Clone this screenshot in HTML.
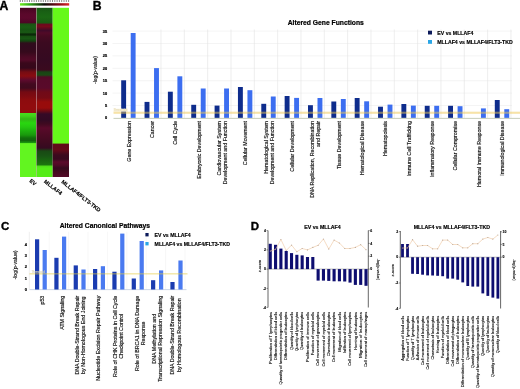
<!DOCTYPE html>
<html><head><meta charset="utf-8"><style>
html,body{margin:0;padding:0;background:#fff;width:520px;height:389px;overflow:hidden}
svg{display:block;filter:blur(0.3px)}
text{font-family:"Liberation Sans",sans-serif}
</style></head><body>
<svg width="520" height="389" viewBox="0 0 520 389">
<rect width="520" height="389" fill="#fff"/>
<text x="-0.40" y="9.70" font-size="12.2" text-anchor="start" font-weight="bold" fill="#000"  stroke="#000" stroke-width="0.366">A</text>
<line x1="20.30" y1="0.00" x2="20.30" y2="2.00" stroke="#6a6a6a" stroke-width="0.8" />
<line x1="22.60" y1="0.00" x2="22.60" y2="2.00" stroke="#6a6a6a" stroke-width="0.8" />
<line x1="24.90" y1="0.00" x2="24.90" y2="2.00" stroke="#6a6a6a" stroke-width="0.8" />
<line x1="27.20" y1="0.00" x2="27.20" y2="2.00" stroke="#6a6a6a" stroke-width="0.8" />
<line x1="29.50" y1="0.00" x2="29.50" y2="2.00" stroke="#6a6a6a" stroke-width="0.8" />
<line x1="31.80" y1="0.00" x2="31.80" y2="2.00" stroke="#6a6a6a" stroke-width="0.8" />
<line x1="34.10" y1="0.00" x2="34.10" y2="2.00" stroke="#6a6a6a" stroke-width="0.8" />
<line x1="36.40" y1="0.00" x2="36.40" y2="2.00" stroke="#6a6a6a" stroke-width="0.8" />
<line x1="38.70" y1="0.00" x2="38.70" y2="2.00" stroke="#6a6a6a" stroke-width="0.8" />
<line x1="41.00" y1="0.00" x2="41.00" y2="2.00" stroke="#6a6a6a" stroke-width="0.8" />
<line x1="43.30" y1="0.00" x2="43.30" y2="2.00" stroke="#6a6a6a" stroke-width="0.8" />
<line x1="45.60" y1="0.00" x2="45.60" y2="2.00" stroke="#6a6a6a" stroke-width="0.8" />
<line x1="47.90" y1="0.00" x2="47.90" y2="2.00" stroke="#6a6a6a" stroke-width="0.8" />
<line x1="50.20" y1="0.00" x2="50.20" y2="2.00" stroke="#6a6a6a" stroke-width="0.8" />
<line x1="52.50" y1="0.00" x2="52.50" y2="2.00" stroke="#6a6a6a" stroke-width="0.8" />
<line x1="54.80" y1="0.00" x2="54.80" y2="2.00" stroke="#6a6a6a" stroke-width="0.8" />
<line x1="57.10" y1="0.00" x2="57.10" y2="2.00" stroke="#6a6a6a" stroke-width="0.8" />
<line x1="59.40" y1="0.00" x2="59.40" y2="2.00" stroke="#6a6a6a" stroke-width="0.8" />
<line x1="61.70" y1="0.00" x2="61.70" y2="2.00" stroke="#6a6a6a" stroke-width="0.8" />
<line x1="64.00" y1="0.00" x2="64.00" y2="2.00" stroke="#6a6a6a" stroke-width="0.8" />
<line x1="66.30" y1="0.00" x2="66.30" y2="2.00" stroke="#6a6a6a" stroke-width="0.8" />
<line x1="68.60" y1="0.00" x2="68.60" y2="2.00" stroke="#6a6a6a" stroke-width="0.8" />
<defs><linearGradient id="cb" x1="0" x2="1" y1="0" y2="0"><stop offset="0" stop-color="#70f020"/><stop offset="0.2" stop-color="#30a818"/><stop offset="0.5" stop-color="#0a0a08"/><stop offset="0.8" stop-color="#8a0a18"/><stop offset="1" stop-color="#e02828"/></linearGradient></defs>
<rect x="20.00" y="3.20" width="49.20" height="2.40" fill="url(#cb)"/>
<defs><linearGradient id="hm0" gradientUnits="userSpaceOnUse" x1="0" y1="7.8" x2="0" y2="177.0"><stop offset="0.0000" stop-color="#440620"/><stop offset="0.0130" stop-color="#4e0625"/><stop offset="0.0366" stop-color="#5a082b"/><stop offset="0.0603" stop-color="#5c082c"/><stop offset="0.0875" stop-color="#4e0625"/><stop offset="0.0957" stop-color="#1b5413"/><stop offset="0.1135" stop-color="#195d14"/><stop offset="0.1312" stop-color="#175413"/><stop offset="0.1454" stop-color="#195814"/><stop offset="0.1543" stop-color="#0c2d09"/><stop offset="0.1608" stop-color="#0a2608"/><stop offset="0.1678" stop-color="#174d11"/><stop offset="0.1814" stop-color="#175613"/><stop offset="0.1962" stop-color="#134210"/><stop offset="0.2080" stop-color="#2f0e1b"/><stop offset="0.2258" stop-color="#310a1e"/><stop offset="0.2612" stop-color="#350a1c"/><stop offset="0.2908" stop-color="#4c0a24"/><stop offset="0.3085" stop-color="#520a27"/><stop offset="0.3262" stop-color="#3a081b"/><stop offset="0.3558" stop-color="#35081b"/><stop offset="0.3794" stop-color="#760c13"/><stop offset="0.4031" stop-color="#880c11"/><stop offset="0.4267" stop-color="#5e0a2d"/><stop offset="0.4504" stop-color="#430a20"/><stop offset="0.4740" stop-color="#400a1e"/><stop offset="0.4976" stop-color="#740a13"/><stop offset="0.5213" stop-color="#7f0a11"/><stop offset="0.5449" stop-color="#8d0c0e"/><stop offset="0.5804" stop-color="#910c0e"/><stop offset="0.6194" stop-color="#8f0c0e"/><stop offset="0.6241" stop-color="#46dc1c"/><stop offset="0.6395" stop-color="#40d01a"/><stop offset="0.6572" stop-color="#34b616"/><stop offset="0.6809" stop-color="#29d710"/><stop offset="0.7045" stop-color="#25c810"/><stop offset="0.7281" stop-color="#1eb00e"/><stop offset="0.7518" stop-color="#19990c"/><stop offset="0.7695" stop-color="#126f0c"/><stop offset="0.7843" stop-color="#10660c"/><stop offset="0.7967" stop-color="#19940e"/><stop offset="0.8026" stop-color="#62f520"/><stop offset="1.0000" stop-color="#62f520"/></linearGradient></defs>
<rect x="20.00" y="7.80" width="16.30" height="169.20" fill="url(#hm0)"/>
<defs><linearGradient id="hm1" gradientUnits="userSpaceOnUse" x1="0" y1="7.8" x2="0" y2="177.0"><stop offset="0.0000" stop-color="#175413"/><stop offset="0.0248" stop-color="#196114"/><stop offset="0.0544" stop-color="#1b6814"/><stop offset="0.0887" stop-color="#195b13"/><stop offset="0.0981" stop-color="#6b0a1e"/><stop offset="0.1105" stop-color="#760a19"/><stop offset="0.1342" stop-color="#400a29"/><stop offset="0.1489" stop-color="#520a27"/><stop offset="0.1667" stop-color="#470a22"/><stop offset="0.2021" stop-color="#3c0a20"/><stop offset="0.2494" stop-color="#380a20"/><stop offset="0.3085" stop-color="#350a21"/><stop offset="0.3676" stop-color="#3a0a1e"/><stop offset="0.3794" stop-color="#194414"/><stop offset="0.3972" stop-color="#1b4914"/><stop offset="0.4090" stop-color="#520a27"/><stop offset="0.4267" stop-color="#570a29"/><stop offset="0.4740" stop-color="#590a2a"/><stop offset="0.4976" stop-color="#700a18"/><stop offset="0.5331" stop-color="#760a14"/><stop offset="0.5567" stop-color="#980c0b"/><stop offset="0.5922" stop-color="#980c0b"/><stop offset="0.6099" stop-color="#6b0a14"/><stop offset="0.6277" stop-color="#350a26"/><stop offset="0.6631" stop-color="#310a23"/><stop offset="0.6868" stop-color="#400a20"/><stop offset="0.7104" stop-color="#590a2a"/><stop offset="0.7518" stop-color="#4c0a24"/><stop offset="0.7931" stop-color="#400a20"/><stop offset="0.8286" stop-color="#350a20"/><stop offset="0.8463" stop-color="#194914"/><stop offset="0.8759" stop-color="#195414"/><stop offset="0.8995" stop-color="#196410"/><stop offset="0.9261" stop-color="#1b740e"/><stop offset="0.9379" stop-color="#50e018"/><stop offset="0.9468" stop-color="#55ec18"/><stop offset="1.0000" stop-color="#55ec18"/></linearGradient></defs>
<rect x="36.30" y="7.80" width="16.40" height="169.20" fill="url(#hm1)"/>
<defs><linearGradient id="hm2" gradientUnits="userSpaceOnUse" x1="0" y1="7.8" x2="0" y2="177.0"><stop offset="0.0000" stop-color="#66f81a"/><stop offset="0.7991" stop-color="#66f81a"/><stop offset="0.8061" stop-color="#600a19"/><stop offset="0.8404" stop-color="#640a19"/><stop offset="0.8700" stop-color="#3c0a1e"/><stop offset="0.8936" stop-color="#380a1e"/><stop offset="0.9113" stop-color="#5b0a2b"/><stop offset="0.9291" stop-color="#500a26"/><stop offset="0.9468" stop-color="#350a1e"/><stop offset="0.9645" stop-color="#400a1e"/><stop offset="1.0000" stop-color="#550a28"/></linearGradient></defs>
<rect x="52.70" y="7.80" width="16.30" height="169.20" fill="url(#hm2)"/>
<rect x="36.10" y="7.80" width="0.40" height="169.20" fill="#c8a0a8"/>
<text transform="translate(29.00,181.60) rotate(38)" font-size="5.4" text-anchor="start" font-weight="bold" fill="#000" stroke="#000" stroke-width="0.15">EV</text>
<text transform="translate(43.60,182.20) rotate(38)" font-size="5.4" text-anchor="start" font-weight="bold" fill="#000" stroke="#000" stroke-width="0.15">MLLAF4</text>
<text transform="translate(61.00,182.60) rotate(38)" font-size="5.4" text-anchor="start" font-weight="bold" fill="#000" stroke="#000" stroke-width="0.15">MLLAF4/FLT3-TKD</text>
<text x="92.80" y="10.00" font-size="12.2" text-anchor="start" font-weight="bold" fill="#000"  stroke="#000" stroke-width="0.366">B</text>
<text x="287.70" y="25.30" font-size="6.75" text-anchor="start" font-weight="bold" fill="#000"  stroke="#000" stroke-width="0.202">Altered Gene Functions</text>
<line x1="112.50" y1="105.50" x2="512.00" y2="105.50" stroke="#ececec" stroke-width="0.6" />
<line x1="112.50" y1="93.10" x2="512.00" y2="93.10" stroke="#ececec" stroke-width="0.6" />
<line x1="112.50" y1="80.70" x2="512.00" y2="80.70" stroke="#ececec" stroke-width="0.6" />
<line x1="112.50" y1="68.30" x2="512.00" y2="68.30" stroke="#ececec" stroke-width="0.6" />
<line x1="112.50" y1="55.90" x2="512.00" y2="55.90" stroke="#ececec" stroke-width="0.6" />
<line x1="112.50" y1="43.50" x2="512.00" y2="43.50" stroke="#ececec" stroke-width="0.6" />
<line x1="112.50" y1="31.10" x2="512.00" y2="31.10" stroke="#ececec" stroke-width="0.6" />
<line x1="161.00" y1="29.50" x2="161.00" y2="117.90" stroke="#e2e2e2" stroke-width="0.6" />
<line x1="184.33" y1="29.50" x2="184.33" y2="117.90" stroke="#e2e2e2" stroke-width="0.6" />
<line x1="207.66" y1="29.50" x2="207.66" y2="117.90" stroke="#e2e2e2" stroke-width="0.6" />
<line x1="230.99" y1="29.50" x2="230.99" y2="117.90" stroke="#e2e2e2" stroke-width="0.6" />
<line x1="254.32" y1="29.50" x2="254.32" y2="117.90" stroke="#e2e2e2" stroke-width="0.6" />
<line x1="277.65" y1="29.50" x2="277.65" y2="117.90" stroke="#e2e2e2" stroke-width="0.6" />
<line x1="300.98" y1="29.50" x2="300.98" y2="117.90" stroke="#e2e2e2" stroke-width="0.6" />
<line x1="324.31" y1="29.50" x2="324.31" y2="117.90" stroke="#e2e2e2" stroke-width="0.6" />
<line x1="347.64" y1="29.50" x2="347.64" y2="117.90" stroke="#e2e2e2" stroke-width="0.6" />
<line x1="370.97" y1="29.50" x2="370.97" y2="117.90" stroke="#e2e2e2" stroke-width="0.6" />
<line x1="394.30" y1="29.50" x2="394.30" y2="117.90" stroke="#e2e2e2" stroke-width="0.6" />
<line x1="417.63" y1="29.50" x2="417.63" y2="117.90" stroke="#e2e2e2" stroke-width="0.6" />
<line x1="440.96" y1="29.50" x2="440.96" y2="117.90" stroke="#e2e2e2" stroke-width="0.6" />
<line x1="464.29" y1="29.50" x2="464.29" y2="117.90" stroke="#e2e2e2" stroke-width="0.6" />
<line x1="487.62" y1="29.50" x2="487.62" y2="117.90" stroke="#e2e2e2" stroke-width="0.6" />
<line x1="510.95" y1="29.50" x2="510.95" y2="117.90" stroke="#e2e2e2" stroke-width="0.6" />
<text x="107.20" y="119.30" font-size="3.9" text-anchor="end" font-weight="bold" fill="#000" stroke="#000" stroke-width="0.2">0</text>
<text x="107.20" y="106.90" font-size="3.9" text-anchor="end" font-weight="bold" fill="#000" stroke="#000" stroke-width="0.2">5</text>
<text x="107.20" y="94.50" font-size="3.9" text-anchor="end" font-weight="bold" fill="#000" stroke="#000" stroke-width="0.2">10</text>
<text x="107.20" y="82.10" font-size="3.9" text-anchor="end" font-weight="bold" fill="#000" stroke="#000" stroke-width="0.2">15</text>
<text x="107.20" y="69.70" font-size="3.9" text-anchor="end" font-weight="bold" fill="#000" stroke="#000" stroke-width="0.2">20</text>
<text x="107.20" y="57.30" font-size="3.9" text-anchor="end" font-weight="bold" fill="#000" stroke="#000" stroke-width="0.2">25</text>
<text x="107.20" y="44.90" font-size="3.9" text-anchor="end" font-weight="bold" fill="#000" stroke="#000" stroke-width="0.2">30</text>
<text x="107.20" y="32.50" font-size="3.9" text-anchor="end" font-weight="bold" fill="#000" stroke="#000" stroke-width="0.2">35</text>
<text transform="translate(96.80,70.00) rotate(-90)" font-size="5.0" text-anchor="middle" fill="#111"  stroke="#111" stroke-width="0.150">-log(p-value)</text>
<rect x="121.20" y="80.30" width="4.90" height="37.60" fill="#0e2c8c"/>
<rect x="130.70" y="33.00" width="4.90" height="84.90" fill="#3c6ef0"/>
<rect x="144.55" y="101.90" width="4.90" height="16.00" fill="#0e2c8c"/>
<rect x="154.05" y="68.10" width="4.90" height="49.80" fill="#3c6ef0"/>
<rect x="167.90" y="91.70" width="4.90" height="26.20" fill="#0e2c8c"/>
<rect x="177.40" y="76.30" width="4.90" height="41.60" fill="#3c6ef0"/>
<rect x="191.25" y="104.80" width="4.90" height="13.10" fill="#0e2c8c"/>
<rect x="200.75" y="88.50" width="4.90" height="29.40" fill="#3c6ef0"/>
<rect x="214.60" y="105.60" width="4.90" height="12.30" fill="#0e2c8c"/>
<rect x="224.10" y="88.50" width="4.90" height="29.40" fill="#3c6ef0"/>
<rect x="237.95" y="87.00" width="4.90" height="30.90" fill="#0e2c8c"/>
<rect x="247.45" y="90.20" width="4.90" height="27.70" fill="#3c6ef0"/>
<rect x="261.30" y="103.80" width="4.90" height="14.10" fill="#0e2c8c"/>
<rect x="270.80" y="96.50" width="4.90" height="21.40" fill="#3c6ef0"/>
<rect x="284.65" y="96.00" width="4.90" height="21.90" fill="#0e2c8c"/>
<rect x="294.15" y="97.90" width="4.90" height="20.00" fill="#3c6ef0"/>
<rect x="308.00" y="105.20" width="4.90" height="12.70" fill="#0e2c8c"/>
<rect x="317.50" y="98.00" width="4.90" height="19.90" fill="#3c6ef0"/>
<rect x="331.35" y="101.50" width="4.90" height="16.40" fill="#0e2c8c"/>
<rect x="340.85" y="99.00" width="4.90" height="18.90" fill="#3c6ef0"/>
<rect x="354.70" y="98.00" width="4.90" height="19.90" fill="#0e2c8c"/>
<rect x="364.20" y="101.30" width="4.90" height="16.60" fill="#3c6ef0"/>
<rect x="378.05" y="106.70" width="4.90" height="11.20" fill="#0e2c8c"/>
<rect x="387.55" y="104.60" width="4.90" height="13.30" fill="#3c6ef0"/>
<rect x="401.40" y="104.00" width="4.90" height="13.90" fill="#0e2c8c"/>
<rect x="410.90" y="105.60" width="4.90" height="12.30" fill="#3c6ef0"/>
<rect x="424.75" y="105.80" width="4.90" height="12.10" fill="#0e2c8c"/>
<rect x="434.25" y="105.80" width="4.90" height="12.10" fill="#3c6ef0"/>
<rect x="448.10" y="105.80" width="4.90" height="12.10" fill="#0e2c8c"/>
<rect x="457.60" y="106.20" width="4.90" height="11.70" fill="#3c6ef0"/>
<rect x="480.95" y="108.40" width="4.90" height="9.50" fill="#3c6ef0"/>
<rect x="494.80" y="100.00" width="4.90" height="17.90" fill="#0e2c8c"/>
<rect x="504.30" y="109.20" width="4.90" height="8.70" fill="#3c6ef0"/>
<rect x="113.50" y="117.90" width="406.50" height="0.80" fill="#b8c0a8"/>
<rect x="113.50" y="108.70" width="14.50" height="3.00" fill="#faf3df"/>
<text x="113.60" y="111.00" font-size="3.0" text-anchor="start" fill="#e0d4a8" >Threshold</text>
<rect x="113.5" y="111.7" width="406.5" height="2.1" fill="#f0c850" opacity="0.5"/>
<rect x="428.00" y="30.70" width="4.00" height="3.80" fill="#0c1a5a"/>
<text x="437.30" y="34.60" font-size="5.2" text-anchor="start" font-weight="bold" fill="#000"  stroke="#000" stroke-width="0.156">EV vs MLLAF4</text>
<rect x="428.00" y="40.00" width="4.00" height="3.80" fill="#2aa6e6"/>
<text x="437.30" y="43.80" font-size="5.2" text-anchor="start" font-weight="bold" fill="#000"  stroke="#000" stroke-width="0.156">MLLAF4 vs MLLAF4/FLT3-TKD</text>
<text transform="translate(130.50,121.00) rotate(-90)" font-size="5.3" text-anchor="end" fill="#111"  stroke="#111" stroke-width="0.159">Gene Expression</text>
<text transform="translate(153.85,121.00) rotate(-90)" font-size="5.3" text-anchor="end" fill="#111"  stroke="#111" stroke-width="0.159">Cancer</text>
<text transform="translate(177.20,121.00) rotate(-90)" font-size="5.3" text-anchor="end" fill="#111"  stroke="#111" stroke-width="0.159">Cell Cycle</text>
<text transform="translate(200.55,121.00) rotate(-90)" font-size="5.3" text-anchor="end" fill="#111"  stroke="#111" stroke-width="0.159">Embryonic Development</text>
<text transform="translate(220.90,121.00) rotate(-90)" font-size="5.3" text-anchor="end" fill="#111"  stroke="#111" stroke-width="0.159">Cardiovascular System</text>
<text transform="translate(226.90,121.00) rotate(-90)" font-size="5.3" text-anchor="end" fill="#111"  stroke="#111" stroke-width="0.159">Development and Function</text>
<text transform="translate(247.25,121.00) rotate(-90)" font-size="5.3" text-anchor="end" fill="#111"  stroke="#111" stroke-width="0.159">Cellular Movement</text>
<text transform="translate(267.60,121.00) rotate(-90)" font-size="5.3" text-anchor="end" fill="#111"  stroke="#111" stroke-width="0.159">Hematological  System</text>
<text transform="translate(273.60,121.00) rotate(-90)" font-size="5.3" text-anchor="end" fill="#111"  stroke="#111" stroke-width="0.159">Development and Function</text>
<text transform="translate(293.95,121.00) rotate(-90)" font-size="5.3" text-anchor="end" fill="#111"  stroke="#111" stroke-width="0.159">Cellular Development</text>
<text transform="translate(314.30,121.00) rotate(-90)" font-size="5.3" text-anchor="end" fill="#111"  stroke="#111" stroke-width="0.159">DNA Replication, Recombination</text>
<text transform="translate(320.30,121.00) rotate(-90)" font-size="5.3" text-anchor="end" fill="#111"  stroke="#111" stroke-width="0.159">and Repair</text>
<text transform="translate(340.65,121.00) rotate(-90)" font-size="5.3" text-anchor="end" fill="#111"  stroke="#111" stroke-width="0.159">Tissue Development</text>
<text transform="translate(364.00,121.00) rotate(-90)" font-size="5.3" text-anchor="end" fill="#111"  stroke="#111" stroke-width="0.159">Hematological Disease</text>
<text transform="translate(387.35,121.00) rotate(-90)" font-size="5.3" text-anchor="end" fill="#111"  stroke="#111" stroke-width="0.159">Hematopoiesis</text>
<text transform="translate(410.70,121.00) rotate(-90)" font-size="5.3" text-anchor="end" fill="#111"  stroke="#111" stroke-width="0.159">Immune Cell Trafficking</text>
<text transform="translate(434.05,121.00) rotate(-90)" font-size="5.3" text-anchor="end" fill="#111"  stroke="#111" stroke-width="0.159">Inflammatory Response</text>
<text transform="translate(457.40,121.00) rotate(-90)" font-size="5.3" text-anchor="end" fill="#111"  stroke="#111" stroke-width="0.159">Cellular Compromise</text>
<text transform="translate(480.75,121.00) rotate(-90)" font-size="5.3" text-anchor="end" fill="#111"  stroke="#111" stroke-width="0.159">Humoral Immune Response</text>
<text transform="translate(504.10,121.00) rotate(-90)" font-size="5.3" text-anchor="end" fill="#111"  stroke="#111" stroke-width="0.159">Immunological Disease</text>
<text x="1.00" y="230.40" font-size="11.5" text-anchor="start" font-weight="bold" fill="#000"  stroke="#000" stroke-width="0.345">C</text>
<text x="59.70" y="227.80" font-size="6.75" text-anchor="start" font-weight="bold" fill="#000"  stroke="#000" stroke-width="0.202">Altered Canonical Pathways</text>
<line x1="29.30" y1="231.80" x2="29.30" y2="289.50" stroke="#e4e4e4" stroke-width="0.6" />
<line x1="49.20" y1="231.80" x2="49.20" y2="289.50" stroke="#eeeeee" stroke-width="0.5" />
<line x1="68.60" y1="231.80" x2="68.60" y2="289.50" stroke="#eeeeee" stroke-width="0.5" />
<line x1="88.00" y1="231.80" x2="88.00" y2="289.50" stroke="#eeeeee" stroke-width="0.5" />
<line x1="107.40" y1="231.80" x2="107.40" y2="289.50" stroke="#eeeeee" stroke-width="0.5" />
<line x1="126.80" y1="231.80" x2="126.80" y2="289.50" stroke="#eeeeee" stroke-width="0.5" />
<line x1="146.20" y1="231.80" x2="146.20" y2="289.50" stroke="#eeeeee" stroke-width="0.5" />
<line x1="165.60" y1="231.80" x2="165.60" y2="289.50" stroke="#eeeeee" stroke-width="0.5" />
<line x1="185.00" y1="231.80" x2="185.00" y2="289.50" stroke="#eeeeee" stroke-width="0.5" />
<text x="25.90" y="290.90" font-size="3.9" text-anchor="middle" font-weight="bold" fill="#000" stroke="#000" stroke-width="0.2">0</text>
<text x="25.90" y="279.55" font-size="3.9" text-anchor="middle" font-weight="bold" fill="#000" stroke="#000" stroke-width="0.2">1</text>
<text x="25.90" y="268.20" font-size="3.9" text-anchor="middle" font-weight="bold" fill="#000" stroke="#000" stroke-width="0.2">2</text>
<text x="25.90" y="256.85" font-size="3.9" text-anchor="middle" font-weight="bold" fill="#000" stroke="#000" stroke-width="0.2">3</text>
<text x="25.90" y="245.50" font-size="3.9" text-anchor="middle" font-weight="bold" fill="#000" stroke="#000" stroke-width="0.2">4</text>
<text transform="translate(17.40,265.00) rotate(-90)" font-size="5.2" text-anchor="middle" fill="#111"  stroke="#111" stroke-width="0.156">-log(p-value)</text>
<rect x="29.50" y="289.30" width="157.00" height="0.80" fill="#c0cce0"/>
<rect x="35.00" y="239.30" width="4.20" height="50.20" fill="#1b3cb0"/>
<rect x="42.60" y="250.00" width="4.20" height="39.50" fill="#4a7af0"/>
<rect x="54.34" y="257.80" width="4.20" height="31.70" fill="#1b3cb0"/>
<rect x="62.00" y="236.60" width="4.20" height="52.90" fill="#4a7af0"/>
<rect x="73.68" y="265.40" width="4.20" height="24.10" fill="#1b3cb0"/>
<rect x="81.40" y="269.50" width="4.20" height="20.00" fill="#4a7af0"/>
<rect x="93.02" y="269.00" width="4.20" height="20.50" fill="#1b3cb0"/>
<rect x="100.80" y="266.20" width="4.20" height="23.30" fill="#4a7af0"/>
<rect x="112.36" y="271.70" width="4.20" height="17.80" fill="#1b3cb0"/>
<rect x="120.20" y="233.60" width="4.20" height="55.90" fill="#4a7af0"/>
<rect x="131.70" y="278.50" width="4.20" height="11.00" fill="#1b3cb0"/>
<rect x="139.60" y="241.00" width="4.20" height="48.50" fill="#4a7af0"/>
<rect x="151.04" y="280.20" width="4.20" height="9.30" fill="#1b3cb0"/>
<rect x="159.00" y="270.40" width="4.20" height="19.10" fill="#4a7af0"/>
<rect x="170.38" y="282.00" width="4.20" height="7.50" fill="#1b3cb0"/>
<rect x="178.40" y="260.50" width="4.20" height="29.00" fill="#4a7af0"/>
<text x="31.50" y="273.00" font-size="3.0" text-anchor="start" fill="#d8d0b0"  stroke="#d8d0b0" stroke-width="0.090">Threshold</text>
<rect x="29.5" y="273.3" width="158" height="1.1" fill="#e4cc40" opacity="0.6"/>
<rect x="145.40" y="233.00" width="3.20" height="3.40" fill="#0c1a5a"/>
<text x="154.60" y="237.00" font-size="5.2" text-anchor="start" font-weight="bold" fill="#000"  stroke="#000" stroke-width="0.156">EV vs MLLAF4</text>
<rect x="145.40" y="242.00" width="3.20" height="3.40" fill="#2aa6e6"/>
<text x="154.60" y="245.60" font-size="5.2" text-anchor="start" font-weight="bold" fill="#000"  stroke="#000" stroke-width="0.156">MLLAF4 vs MLLAF4/FLT3-TKD</text>
<text transform="translate(44.30,295.70) rotate(-90)" font-size="5.3" text-anchor="end" fill="#111"  stroke="#111" stroke-width="0.159">p53</text>
<text transform="translate(63.80,295.70) rotate(-90)" font-size="5.3" text-anchor="end" fill="#111"  stroke="#111" stroke-width="0.159">ATM Signaling</text>
<text transform="translate(78.80,335.17) rotate(-90)" font-size="5.3" text-anchor="middle" fill="#111"  stroke="#111" stroke-width="0.159">DNA Double-Strand Break Repair</text>
<text transform="translate(85.20,335.17) rotate(-90)" font-size="5.3" text-anchor="middle" fill="#111"  stroke="#111" stroke-width="0.159">by Non-Homologous End Joining</text>
<text transform="translate(100.30,295.70) rotate(-90)" font-size="5.3" text-anchor="end" fill="#111"  stroke="#111" stroke-width="0.159">Nucleotide Excision Repair Pathway</text>
<text transform="translate(116.50,336.35) rotate(-90)" font-size="5.3" text-anchor="middle" fill="#111"  stroke="#111" stroke-width="0.159">Role of CHK Proteins in Cell Cycle</text>
<text transform="translate(122.90,336.35) rotate(-90)" font-size="5.3" text-anchor="middle" fill="#111"  stroke="#111" stroke-width="0.159">Checkpoint Control</text>
<text transform="translate(139.00,333.41) rotate(-90)" font-size="5.3" text-anchor="middle" fill="#111"  stroke="#111" stroke-width="0.159">Role of BRCA1 in DNA Damage</text>
<text transform="translate(145.40,333.41) rotate(-90)" font-size="5.3" text-anchor="middle" fill="#111"  stroke="#111" stroke-width="0.159">Response</text>
<text transform="translate(155.50,338.76) rotate(-90)" font-size="5.3" text-anchor="middle" fill="#111"  stroke="#111" stroke-width="0.159">DNA Methylation and</text>
<text transform="translate(161.90,338.76) rotate(-90)" font-size="5.3" text-anchor="middle" fill="#111"  stroke="#111" stroke-width="0.159">Transcriptional Repression Signaling</text>
<text transform="translate(174.20,335.17) rotate(-90)" font-size="5.3" text-anchor="middle" fill="#111"  stroke="#111" stroke-width="0.159">DNA Double-Strand Break Repair</text>
<text transform="translate(180.60,335.17) rotate(-90)" font-size="5.3" text-anchor="middle" fill="#111"  stroke="#111" stroke-width="0.159">by Homologous Recombination</text>
<text x="250.80" y="230.20" font-size="11.5" text-anchor="start" font-weight="bold" fill="#000"  stroke="#000" stroke-width="0.345">D</text>
<text x="304.20" y="228.60" font-size="5.25" text-anchor="start" font-weight="bold" fill="#000"  stroke="#000" stroke-width="0.158">EV vs MLLAF4</text>
<line x1="268.00" y1="230.50" x2="268.00" y2="307.50" stroke="#333" stroke-width="0.75" />
<line x1="368.30" y1="230.50" x2="368.30" y2="307.50" stroke="#333" stroke-width="0.75" />
<line x1="268.00" y1="269.10" x2="368.30" y2="269.10" stroke="#555" stroke-width="0.4" />
<line x1="266.50" y1="230.60" x2="268.00" y2="230.60" stroke="#333" stroke-width="0.5" />
<text x="266.00" y="231.80" font-size="3.5" text-anchor="end" font-weight="bold" fill="#000"  stroke="#000" stroke-width="0.105">4</text>
<line x1="266.50" y1="249.90" x2="268.00" y2="249.90" stroke="#333" stroke-width="0.5" />
<text x="266.00" y="251.10" font-size="3.5" text-anchor="end" font-weight="bold" fill="#000"  stroke="#000" stroke-width="0.105">2</text>
<line x1="266.50" y1="269.10" x2="268.00" y2="269.10" stroke="#333" stroke-width="0.5" />
<text x="266.00" y="270.30" font-size="3.5" text-anchor="end" font-weight="bold" fill="#000"  stroke="#000" stroke-width="0.105">0</text>
<line x1="266.50" y1="288.40" x2="268.00" y2="288.40" stroke="#333" stroke-width="0.5" />
<text x="266.00" y="289.60" font-size="3.5" text-anchor="end" font-weight="bold" fill="#000"  stroke="#000" stroke-width="0.105">-2</text>
<line x1="266.50" y1="307.40" x2="268.00" y2="307.40" stroke="#333" stroke-width="0.5" />
<text x="266.00" y="308.60" font-size="3.5" text-anchor="end" font-weight="bold" fill="#000"  stroke="#000" stroke-width="0.105">-4</text>
<line x1="368.30" y1="230.60" x2="369.80" y2="230.60" stroke="#333" stroke-width="0.5" />
<text x="370.30" y="231.80" font-size="3.5" text-anchor="start" font-weight="bold" fill="#000"  stroke="#000" stroke-width="0.105">6</text>
<line x1="368.30" y1="243.40" x2="369.80" y2="243.40" stroke="#333" stroke-width="0.5" />
<text x="370.30" y="244.60" font-size="3.5" text-anchor="start" font-weight="bold" fill="#000"  stroke="#000" stroke-width="0.105">4</text>
<line x1="368.30" y1="256.20" x2="369.80" y2="256.20" stroke="#333" stroke-width="0.5" />
<text x="370.30" y="257.40" font-size="3.5" text-anchor="start" font-weight="bold" fill="#000"  stroke="#000" stroke-width="0.105">2</text>
<line x1="368.30" y1="269.10" x2="369.80" y2="269.10" stroke="#333" stroke-width="0.5" />
<text x="370.30" y="270.30" font-size="3.5" text-anchor="start" font-weight="bold" fill="#000"  stroke="#000" stroke-width="0.105">0</text>
<rect x="268.70" y="243.80" width="3.10" height="25.30" fill="#0e0e70"/>
<rect x="274.02" y="244.80" width="3.10" height="24.30" fill="#0e0e70"/>
<rect x="279.34" y="248.60" width="3.10" height="20.50" fill="#0e0e70"/>
<rect x="284.66" y="251.00" width="3.10" height="18.10" fill="#0e0e70"/>
<rect x="289.98" y="253.10" width="3.10" height="16.00" fill="#0e0e70"/>
<rect x="295.30" y="254.80" width="3.10" height="14.30" fill="#0e0e70"/>
<rect x="300.62" y="255.40" width="3.10" height="13.70" fill="#0e0e70"/>
<rect x="305.94" y="257.00" width="3.10" height="12.10" fill="#0e0e70"/>
<rect x="311.26" y="257.00" width="3.10" height="12.10" fill="#0e0e70"/>
<rect x="316.58" y="269.10" width="3.10" height="11.50" fill="#0e0e70"/>
<rect x="321.90" y="269.10" width="3.10" height="11.50" fill="#0e0e70"/>
<rect x="327.22" y="269.10" width="3.10" height="11.80" fill="#0e0e70"/>
<rect x="332.54" y="269.10" width="3.10" height="12.20" fill="#0e0e70"/>
<rect x="337.86" y="269.10" width="3.10" height="12.20" fill="#0e0e70"/>
<rect x="343.18" y="269.10" width="3.10" height="12.40" fill="#0e0e70"/>
<rect x="348.50" y="269.10" width="3.10" height="13.50" fill="#0e0e70"/>
<rect x="353.82" y="269.10" width="3.10" height="15.80" fill="#0e0e70"/>
<rect x="359.14" y="269.10" width="3.10" height="15.80" fill="#0e0e70"/>
<rect x="364.46" y="269.10" width="3.10" height="16.70" fill="#0e0e70"/>
<polyline points="270.25,251.10 275.57,249.30 280.89,239.50 286.21,250.50 291.53,245.10 296.85,251.70 302.17,248.50 307.49,249.90 312.81,247.40 318.13,245.30 323.45,239.00 328.77,249.10 334.09,240.10 339.41,243.00 344.73,248.50 350.05,248.50 355.37,247.40 360.69,244.70 366.01,249.70" fill="none" stroke="#eec49c" stroke-width="0.6"/>
<circle cx="270.25" cy="251.10" r="0.6" fill="#b0a090" opacity="0.85"/>
<circle cx="275.57" cy="249.30" r="0.6" fill="#b0a090" opacity="0.85"/>
<circle cx="280.89" cy="239.50" r="0.6" fill="#b0a090" opacity="0.85"/>
<circle cx="286.21" cy="250.50" r="0.6" fill="#b0a090" opacity="0.85"/>
<circle cx="291.53" cy="245.10" r="0.6" fill="#b0a090" opacity="0.85"/>
<circle cx="296.85" cy="251.70" r="0.6" fill="#b0a090" opacity="0.85"/>
<circle cx="302.17" cy="248.50" r="0.6" fill="#b0a090" opacity="0.85"/>
<circle cx="307.49" cy="249.90" r="0.6" fill="#b0a090" opacity="0.85"/>
<circle cx="312.81" cy="247.40" r="0.6" fill="#b0a090" opacity="0.85"/>
<circle cx="318.13" cy="245.30" r="0.6" fill="#b0a090" opacity="0.85"/>
<circle cx="323.45" cy="239.00" r="0.6" fill="#b0a090" opacity="0.85"/>
<circle cx="328.77" cy="249.10" r="0.6" fill="#b0a090" opacity="0.85"/>
<circle cx="334.09" cy="240.10" r="0.6" fill="#b0a090" opacity="0.85"/>
<circle cx="339.41" cy="243.00" r="0.6" fill="#b0a090" opacity="0.85"/>
<circle cx="344.73" cy="248.50" r="0.6" fill="#b0a090" opacity="0.85"/>
<circle cx="350.05" cy="248.50" r="0.6" fill="#b0a090" opacity="0.85"/>
<circle cx="355.37" cy="247.40" r="0.6" fill="#b0a090" opacity="0.85"/>
<circle cx="360.69" cy="244.70" r="0.6" fill="#b0a090" opacity="0.85"/>
<circle cx="366.01" cy="249.70" r="0.6" fill="#b0a090" opacity="0.85"/>
<text transform="translate(271.50,311.90) rotate(-90)" font-size="3.9" text-anchor="end" fill="#111" textLength="52.10" lengthAdjust="spacingAndGlyphs" stroke="#111" stroke-width="0.117">Proliferation of T lymphocytes</text>
<text transform="translate(276.82,311.90) rotate(-90)" font-size="3.9" text-anchor="end" fill="#111" textLength="48.10" lengthAdjust="spacingAndGlyphs" stroke="#111" stroke-width="0.117">Differentiation of blood cells</text>
<text transform="translate(282.14,311.90) rotate(-90)" font-size="3.9" text-anchor="end" fill="#111" textLength="72.60" lengthAdjust="spacingAndGlyphs" stroke="#111" stroke-width="0.117">Quantity of hematopoietic progenitor cells</text>
<text transform="translate(287.46,311.90) rotate(-90)" font-size="3.9" text-anchor="end" fill="#111" textLength="48.10" lengthAdjust="spacingAndGlyphs" stroke="#111" stroke-width="0.117">Differentiation of leukocytes</text>
<text transform="translate(292.78,311.90) rotate(-90)" font-size="3.9" text-anchor="end" fill="#111" textLength="38.10" lengthAdjust="spacingAndGlyphs" stroke="#111" stroke-width="0.117">Quantity of blood cells</text>
<text transform="translate(298.10,311.90) rotate(-90)" font-size="3.9" text-anchor="end" fill="#111" textLength="39.10" lengthAdjust="spacingAndGlyphs" stroke="#111" stroke-width="0.117">Quantity of lymphocytes</text>
<text transform="translate(303.42,311.90) rotate(-90)" font-size="3.9" text-anchor="end" fill="#111" textLength="38.10" lengthAdjust="spacingAndGlyphs" stroke="#111" stroke-width="0.117">Quantity of leukocytes</text>
<text transform="translate(308.74,311.90) rotate(-90)" font-size="3.9" text-anchor="end" fill="#111" textLength="50.10" lengthAdjust="spacingAndGlyphs" stroke="#111" stroke-width="0.117">Proliferation of immune cells</text>
<text transform="translate(314.06,311.90) rotate(-90)" font-size="3.9" text-anchor="end" fill="#111" textLength="43.40" lengthAdjust="spacingAndGlyphs" stroke="#111" stroke-width="0.117">Function of myeloid cells</text>
<text transform="translate(319.38,311.90) rotate(-90)" font-size="3.9" text-anchor="end" fill="#111" textLength="53.90" lengthAdjust="spacingAndGlyphs" stroke="#111" stroke-width="0.117">Cell movement of granulocytes</text>
<text transform="translate(324.70,311.90) rotate(-90)" font-size="3.9" text-anchor="end" fill="#111" textLength="54.60" lengthAdjust="spacingAndGlyphs" stroke="#111" stroke-width="0.117">Cell movement of myeloid cells</text>
<text transform="translate(330.02,311.90) rotate(-90)" font-size="3.9" text-anchor="end" fill="#111" textLength="44.30" lengthAdjust="spacingAndGlyphs" stroke="#111" stroke-width="0.117">Chemotaxis of leukocytes</text>
<text transform="translate(335.34,311.90) rotate(-90)" font-size="3.9" text-anchor="end" fill="#111" textLength="50.40" lengthAdjust="spacingAndGlyphs" stroke="#111" stroke-width="0.117">Cell movement of leukocytes</text>
<text transform="translate(340.66,311.90) rotate(-90)" font-size="3.9" text-anchor="end" fill="#111" textLength="39.80" lengthAdjust="spacingAndGlyphs" stroke="#111" stroke-width="0.117">Migration of blood cells</text>
<text transform="translate(345.98,311.90) rotate(-90)" font-size="3.9" text-anchor="end" fill="#111" textLength="41.10" lengthAdjust="spacingAndGlyphs" stroke="#111" stroke-width="0.117">Infiltration of leukocytes</text>
<text transform="translate(351.30,311.90) rotate(-90)" font-size="3.9" text-anchor="end" fill="#111" textLength="53.90" lengthAdjust="spacingAndGlyphs" stroke="#111" stroke-width="0.117">Cell movement of lymphocytes</text>
<text transform="translate(356.62,311.90) rotate(-90)" font-size="3.9" text-anchor="end" fill="#111" textLength="37.90" lengthAdjust="spacingAndGlyphs" stroke="#111" stroke-width="0.117">Homing of leukocytes</text>
<text transform="translate(361.94,311.90) rotate(-90)" font-size="3.9" text-anchor="end" fill="#111" textLength="46.20" lengthAdjust="spacingAndGlyphs" stroke="#111" stroke-width="0.117">Migration of leukocytes</text>
<text transform="translate(367.26,311.90) rotate(-90)" font-size="3.9" text-anchor="end" fill="#111" textLength="55.20" lengthAdjust="spacingAndGlyphs" stroke="#111" stroke-width="0.117">Cell movement of macrophages</text>
<text transform="translate(261.00,266.00) rotate(-90)" font-size="3.8" text-anchor="middle" fill="#111"  stroke="#111" stroke-width="0.114">z-score</text>
<text transform="translate(377.00,269.30) rotate(90)" font-size="3.8" text-anchor="middle" fill="#111"  stroke="#111" stroke-width="0.114">-log(p-value)</text>
<text x="413.70" y="228.60" font-size="5.25" text-anchor="start" font-weight="bold" fill="#000"  stroke="#000" stroke-width="0.158">MLLAF4 vs MLLAF4/FLT3-TKD</text>
<line x1="400.30" y1="231.00" x2="400.30" y2="308.50" stroke="#333" stroke-width="0.75" />
<line x1="500.60" y1="231.00" x2="500.60" y2="308.50" stroke="#333" stroke-width="0.75" />
<line x1="400.30" y1="257.20" x2="500.60" y2="257.20" stroke="#555" stroke-width="0.4" />
<line x1="398.80" y1="231.60" x2="400.30" y2="231.60" stroke="#333" stroke-width="0.5" />
<text x="398.30" y="232.80" font-size="3.5" text-anchor="end" font-weight="bold" fill="#000"  stroke="#000" stroke-width="0.105">2</text>
<line x1="398.80" y1="257.20" x2="400.30" y2="257.20" stroke="#333" stroke-width="0.5" />
<text x="398.30" y="258.40" font-size="3.5" text-anchor="end" font-weight="bold" fill="#000"  stroke="#000" stroke-width="0.105">0</text>
<line x1="398.80" y1="283.00" x2="400.30" y2="283.00" stroke="#333" stroke-width="0.5" />
<text x="398.30" y="284.20" font-size="3.5" text-anchor="end" font-weight="bold" fill="#000"  stroke="#000" stroke-width="0.105">-2</text>
<line x1="398.80" y1="308.40" x2="400.30" y2="308.40" stroke="#333" stroke-width="0.5" />
<text x="398.30" y="309.60" font-size="3.5" text-anchor="end" font-weight="bold" fill="#000"  stroke="#000" stroke-width="0.105">-4</text>
<line x1="500.60" y1="231.80" x2="502.10" y2="231.80" stroke="#333" stroke-width="0.5" />
<text x="502.60" y="233.00" font-size="3.5" text-anchor="start" font-weight="bold" fill="#000"  stroke="#000" stroke-width="0.105">10</text>
<line x1="500.60" y1="244.40" x2="502.10" y2="244.40" stroke="#333" stroke-width="0.5" />
<text x="502.60" y="245.60" font-size="3.5" text-anchor="start" font-weight="bold" fill="#000"  stroke="#000" stroke-width="0.105">5</text>
<line x1="500.60" y1="257.20" x2="502.10" y2="257.20" stroke="#333" stroke-width="0.5" />
<text x="502.60" y="258.40" font-size="3.5" text-anchor="start" font-weight="bold" fill="#000"  stroke="#000" stroke-width="0.105">0</text>
<rect x="401.10" y="244.00" width="2.80" height="13.20" fill="#0e0e70"/>
<rect x="406.12" y="244.00" width="2.80" height="13.20" fill="#0e0e70"/>
<rect x="411.14" y="257.20" width="2.80" height="16.60" fill="#0e0e70"/>
<rect x="416.16" y="257.20" width="2.80" height="16.80" fill="#0e0e70"/>
<rect x="421.18" y="257.20" width="2.80" height="17.50" fill="#0e0e70"/>
<rect x="426.20" y="257.20" width="2.80" height="18.20" fill="#0e0e70"/>
<rect x="431.22" y="257.20" width="2.80" height="18.30" fill="#0e0e70"/>
<rect x="436.24" y="257.20" width="2.80" height="18.60" fill="#0e0e70"/>
<rect x="441.26" y="257.20" width="2.80" height="19.00" fill="#0e0e70"/>
<rect x="446.28" y="257.20" width="2.80" height="21.40" fill="#0e0e70"/>
<rect x="451.30" y="257.20" width="2.80" height="21.40" fill="#0e0e70"/>
<rect x="456.32" y="257.20" width="2.80" height="22.50" fill="#0e0e70"/>
<rect x="461.34" y="257.20" width="2.80" height="25.20" fill="#0e0e70"/>
<rect x="466.36" y="257.20" width="2.80" height="28.80" fill="#0e0e70"/>
<rect x="471.38" y="257.20" width="2.80" height="29.40" fill="#0e0e70"/>
<rect x="476.40" y="257.20" width="2.80" height="29.40" fill="#0e0e70"/>
<rect x="481.42" y="257.20" width="2.80" height="36.20" fill="#0e0e70"/>
<rect x="486.44" y="257.20" width="2.80" height="38.70" fill="#0e0e70"/>
<rect x="491.46" y="257.20" width="2.80" height="40.40" fill="#0e0e70"/>
<rect x="496.48" y="257.20" width="2.80" height="41.40" fill="#0e0e70"/>
<polyline points="402.50,248.00 407.52,248.00 412.54,239.70 417.56,246.20 422.58,245.50 427.60,245.50 432.62,248.80 437.64,248.80 442.66,240.10 447.68,240.10 452.70,244.50 457.72,244.50 462.74,247.80 467.76,247.80 472.78,243.70 477.80,243.70 482.82,239.10 487.84,237.50 492.86,239.10 497.88,235.00" fill="none" stroke="#eec49c" stroke-width="0.6"/>
<circle cx="402.50" cy="248.00" r="0.6" fill="#b0a090" opacity="0.85"/>
<circle cx="407.52" cy="248.00" r="0.6" fill="#b0a090" opacity="0.85"/>
<circle cx="412.54" cy="239.70" r="0.6" fill="#b0a090" opacity="0.85"/>
<circle cx="417.56" cy="246.20" r="0.6" fill="#b0a090" opacity="0.85"/>
<circle cx="422.58" cy="245.50" r="0.6" fill="#b0a090" opacity="0.85"/>
<circle cx="427.60" cy="245.50" r="0.6" fill="#b0a090" opacity="0.85"/>
<circle cx="432.62" cy="248.80" r="0.6" fill="#b0a090" opacity="0.85"/>
<circle cx="437.64" cy="248.80" r="0.6" fill="#b0a090" opacity="0.85"/>
<circle cx="442.66" cy="240.10" r="0.6" fill="#b0a090" opacity="0.85"/>
<circle cx="447.68" cy="240.10" r="0.6" fill="#b0a090" opacity="0.85"/>
<circle cx="452.70" cy="244.50" r="0.6" fill="#b0a090" opacity="0.85"/>
<circle cx="457.72" cy="244.50" r="0.6" fill="#b0a090" opacity="0.85"/>
<circle cx="462.74" cy="247.80" r="0.6" fill="#b0a090" opacity="0.85"/>
<circle cx="467.76" cy="247.80" r="0.6" fill="#b0a090" opacity="0.85"/>
<circle cx="472.78" cy="243.70" r="0.6" fill="#b0a090" opacity="0.85"/>
<circle cx="477.80" cy="243.70" r="0.6" fill="#b0a090" opacity="0.85"/>
<circle cx="482.82" cy="239.10" r="0.6" fill="#b0a090" opacity="0.85"/>
<circle cx="487.84" cy="237.50" r="0.6" fill="#b0a090" opacity="0.85"/>
<circle cx="492.86" cy="239.10" r="0.6" fill="#b0a090" opacity="0.85"/>
<circle cx="497.88" cy="235.00" r="0.6" fill="#b0a090" opacity="0.85"/>
<text transform="translate(403.80,315.80) rotate(-90)" font-size="3.9" text-anchor="end" fill="#111" textLength="45.00" lengthAdjust="spacingAndGlyphs" stroke="#111" stroke-width="0.117">Aggregation of blood cells</text>
<text transform="translate(408.82,315.80) rotate(-90)" font-size="3.9" text-anchor="end" fill="#111" textLength="45.00" lengthAdjust="spacingAndGlyphs" stroke="#111" stroke-width="0.117">Function of T lymphocytes</text>
<text transform="translate(413.84,315.80) rotate(-90)" font-size="3.9" text-anchor="end" fill="#111" textLength="44.40" lengthAdjust="spacingAndGlyphs" stroke="#111" stroke-width="0.117">Quantity of T lymphocytes</text>
<text transform="translate(418.86,315.80) rotate(-90)" font-size="3.9" text-anchor="end" fill="#111" textLength="44.40" lengthAdjust="spacingAndGlyphs" stroke="#111" stroke-width="0.117">Adhesion of immune cells</text>
<text transform="translate(423.88,315.80) rotate(-90)" font-size="3.9" text-anchor="end" fill="#111" textLength="49.40" lengthAdjust="spacingAndGlyphs" stroke="#111" stroke-width="0.117">Cell movement of leukocytes</text>
<text transform="translate(428.90,315.80) rotate(-90)" font-size="3.9" text-anchor="end" fill="#111" textLength="53.80" lengthAdjust="spacingAndGlyphs" stroke="#111" stroke-width="0.117">Cell movement of myeloid cells</text>
<text transform="translate(433.92,315.80) rotate(-90)" font-size="3.9" text-anchor="end" fill="#111" textLength="43.70" lengthAdjust="spacingAndGlyphs" stroke="#111" stroke-width="0.117">Chemotaxis of leukocytes</text>
<text transform="translate(438.94,315.80) rotate(-90)" font-size="3.9" text-anchor="end" fill="#111" textLength="37.40" lengthAdjust="spacingAndGlyphs" stroke="#111" stroke-width="0.117">Homing of leukocytes</text>
<text transform="translate(443.96,315.80) rotate(-90)" font-size="3.9" text-anchor="end" fill="#111" textLength="42.50" lengthAdjust="spacingAndGlyphs" stroke="#111" stroke-width="0.117">Function of myeloid cells</text>
<text transform="translate(448.98,315.80) rotate(-90)" font-size="3.9" text-anchor="end" fill="#111" textLength="48.20" lengthAdjust="spacingAndGlyphs" stroke="#111" stroke-width="0.117">Differentiation of blood cells</text>
<text transform="translate(454.00,315.80) rotate(-90)" font-size="3.9" text-anchor="end" fill="#111" textLength="50.60" lengthAdjust="spacingAndGlyphs" stroke="#111" stroke-width="0.117">Cell movement of phagocytes</text>
<text transform="translate(459.02,315.80) rotate(-90)" font-size="3.9" text-anchor="end" fill="#111" textLength="48.20" lengthAdjust="spacingAndGlyphs" stroke="#111" stroke-width="0.117">Differentiation of leukocytes</text>
<text transform="translate(464.04,315.80) rotate(-90)" font-size="3.9" text-anchor="end" fill="#111" textLength="71.40" lengthAdjust="spacingAndGlyphs" stroke="#111" stroke-width="0.117">Differentiation of mononuclear leukocytes</text>
<text transform="translate(469.06,315.80) rotate(-90)" font-size="3.9" text-anchor="end" fill="#111" textLength="44.40" lengthAdjust="spacingAndGlyphs" stroke="#111" stroke-width="0.117">Quantity of B lymphocytes</text>
<text transform="translate(474.08,315.80) rotate(-90)" font-size="3.9" text-anchor="end" fill="#111" textLength="52.50" lengthAdjust="spacingAndGlyphs" stroke="#111" stroke-width="0.117">Quantity of hematopoietic cells</text>
<text transform="translate(479.10,315.80) rotate(-90)" font-size="3.9" text-anchor="end" fill="#111" textLength="72.20" lengthAdjust="spacingAndGlyphs" stroke="#111" stroke-width="0.117">Quantity of hematopoietic progenitor cells</text>
<text transform="translate(484.12,315.80) rotate(-90)" font-size="3.9" text-anchor="end" fill="#111" textLength="40.20" lengthAdjust="spacingAndGlyphs" stroke="#111" stroke-width="0.117">Quantity of lymphocytes</text>
<text transform="translate(489.14,315.80) rotate(-90)" font-size="3.9" text-anchor="end" fill="#111" textLength="37.20" lengthAdjust="spacingAndGlyphs" stroke="#111" stroke-width="0.117">Quantity of leukocytes</text>
<text transform="translate(494.16,315.80) rotate(-90)" font-size="3.9" text-anchor="end" fill="#111" textLength="61.40" lengthAdjust="spacingAndGlyphs" stroke="#111" stroke-width="0.117">Quantity of mononuclear leukocytes</text>
<text transform="translate(499.18,315.80) rotate(-90)" font-size="3.9" text-anchor="end" fill="#111" textLength="37.40" lengthAdjust="spacingAndGlyphs" stroke="#111" stroke-width="0.117">Quantity of blood cells</text>
<text transform="translate(393.80,270.30) rotate(-90)" font-size="3.8" text-anchor="middle" fill="#111"  stroke="#111" stroke-width="0.114">z-score</text>
<text transform="translate(512.90,269.80) rotate(90)" font-size="3.8" text-anchor="middle" fill="#111"  stroke="#111" stroke-width="0.114">-log(p-value)</text>
</svg>
</body></html>
